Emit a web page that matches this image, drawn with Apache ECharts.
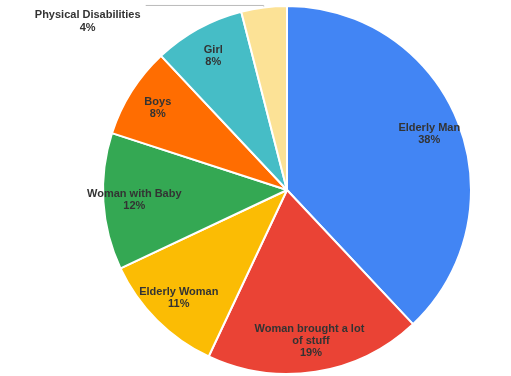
<!DOCTYPE html>
<html>
<head>
<meta charset="utf-8">
<script src="https://cdn.jsdelivr.net/npm/echarts@6/dist/echarts.min.js"></script>
<style>
  html, body { margin: 0; padding: 0; background: #fff; }
  #chart { width: 511px; height: 376px; }
</style>
</head>
<body>
<div id="chart"></div>
<script>
// slice names and percentages, clockwise from the top
var categories = ["Elderly Man", "Woman brought a lot of stuff", "Elderly Woman", "Woman with Baby", "Boys", "Girl", "Physical Disabilities"];
var values = [38, 19, 11, 12, 8, 8, 4];
var colors = ["#4285F4", "#EA4335", "#FBBC04", "#34A853", "#FF6D01", "#46BDC6", "#FCE296"];

var chart = echarts.init(document.getElementById("chart"));

var labelText = function (p) {
  return p.name + "\n" + Math.round(p.percent) + "%";
};

// main pie: only the small slice gets an outside label
var pieData = categories.map(function (name, i) {
  var item = { name: name, value: values[i], itemStyle: { color: colors[i] } };
  if (i === categories.length - 1) {
    item.label = {
      show: true,
      position: "outside",
      // two empty lines push the text below the leader line
      formatter: function (p) {
        return "\n\n{t|" + p.name + "}\n{t|" + Math.round(p.percent) + "%}";
      },
      color: "#333",
      fontFamily: "Liberation Sans",
      fontWeight: "bold",
      fontSize: 11,
      lineHeight: 16,
      rich: {
        t: {
          width: 106,
          align: "center",
          color: "#333",
          fontFamily: "Liberation Sans",
          fontWeight: "bold",
          fontSize: 11,
          lineHeight: 13,
        },
      },
    };
    item.labelLine = { show: true, length: 2, length2: 118, lineStyle: { color: "#bbb", width: 1 } };
  }
  return item;
});

// transparent ring used only to put inside labels further out
var ringData = categories.map(function (name, i) {
  return {
    name: name,
    value: values[i],
    label: { show: i !== categories.length - 1 },
  };
});

var option = {
  animation: false,
  series: [
    {
      type: "pie",
      center: [287, 190],
      radius: 184,
      startAngle: 90,
      clockwise: true,
      avoidLabelOverlap: false,
      itemStyle: { borderColor: "#fff", borderWidth: 2 },
      label: { show: false },
      labelLine: { show: false },
      data: pieData,
    },
    {
      type: "pie",
      center: [287, 190],
      radius: [116, 184],
      startAngle: 90,
      clockwise: true,
      silent: true,
      avoidLabelOverlap: false,
      itemStyle: { color: "rgba(0,0,0,0)", borderWidth: 0 },
      label: {
        position: "inside",
        formatter: labelText,
        color: "#333",
        fontFamily: "Liberation Sans",
        fontWeight: "bold",
        fontSize: 11,
        lineHeight: 12,
        align: "center",
        width: 115,
        overflow: "break",
      },
      labelLine: { show: false },
      data: ringData,
    },
  ],
};

chart.setOption(option);
</script>
</body>
</html>
